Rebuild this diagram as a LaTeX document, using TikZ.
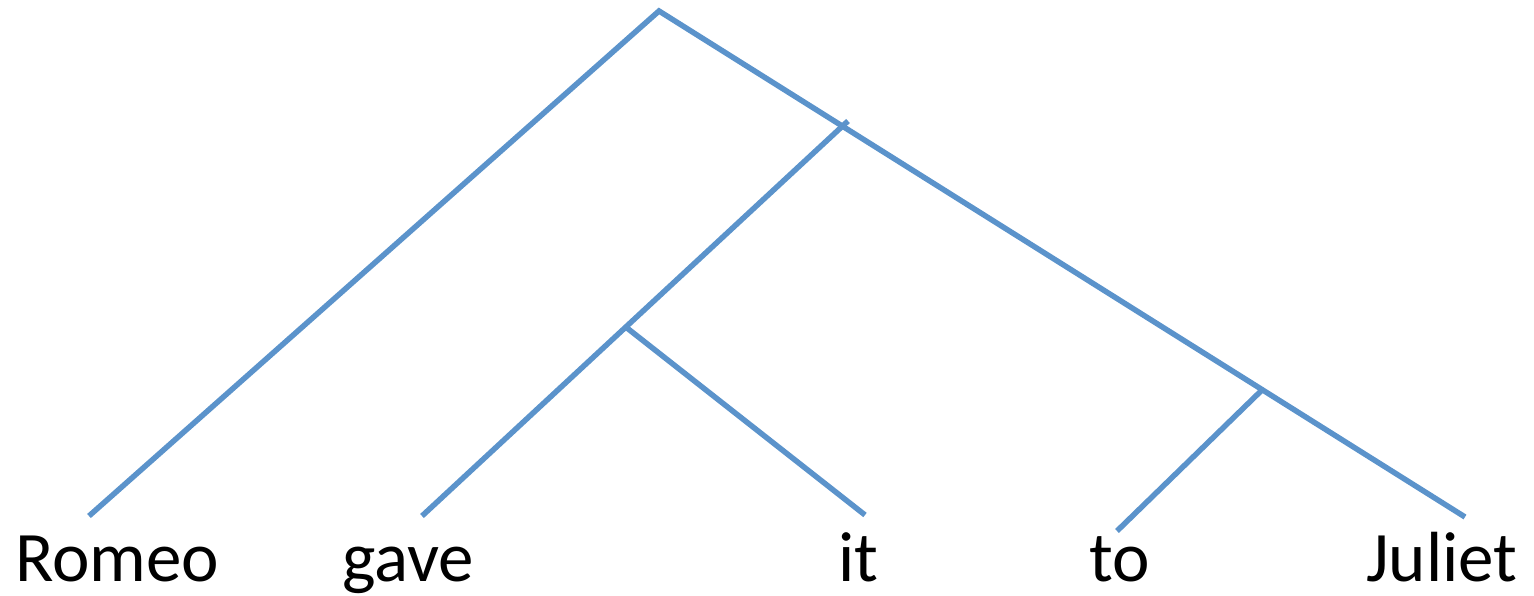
\documentclass[tikz,border=0pt]{standalone}
\usepackage{fontspec}
\setmainfont{Carlito}
\usepackage{tikz}
\usetikzlibrary{positioning}
\definecolor{branchblue}{HTML}{5B93CB}

\begin{document}
\begin{tikzpicture}[
  x=1pt, y=-1pt,
  branch/.style={line width=5.5pt, draw=branchblue},
  word/.style={font=\fontsize{71}{85}\selectfont, anchor=base west, inner sep=0pt},
]
\useasboundingbox (0,0) rectangle (1534,596);
% ---------- tree points ----------
\coordinate (root) at (659,11);
\coordinate (vp) at (848,121);
\coordinate (obj) at (627,328);
\coordinate (pp) at (1262,390);
% ---------- leaf ends ----------
\coordinate (eRomeo) at (89,516);
\coordinate (egave) at (422,516);
\coordinate (eit) at (865,515);
\coordinate (eto) at (1117,531);
\coordinate (eJuliet) at (1465,517);
% ---------- words ----------
\node[word] (romeo) at (15,581) {Romeo};
\node[word] (gave) at (342,581) {gave};
\node[word] (it) at (838,581) {it};
\node[word] (to) at (1089,581) {to};
\node[word] (juliet) at (1366,581) {Juliet};
% ---------- branches ----------
\draw[branch] (eRomeo) -- (root) -- (eJuliet);
\draw[branch] (vp) -- (egave);
\draw[branch] (obj) -- (eit);
\draw[branch] (pp) -- (eto);
\end{tikzpicture}
\end{document}
